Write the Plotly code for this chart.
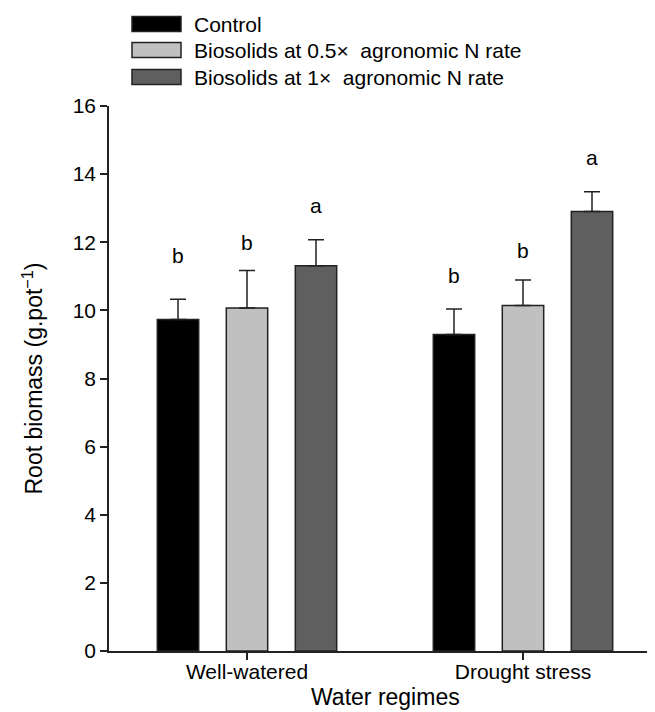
import plotly.graph_objects as go

regimes = ["Well-watered", "Drought stress"]
treatments = ["Control", "Biosolids at 0.5×  agronomic N rate", "Biosolids at 1×  agronomic N rate"]
means = {
    "Control": [9.73, 9.29],
    "Biosolids at 0.5×  agronomic N rate": [10.07, 10.14],
    "Biosolids at 1×  agronomic N rate": [11.31, 12.90],
}
errors = {
    "Control": [0.60, 0.75],
    "Biosolids at 0.5×  agronomic N rate": [1.10, 0.75],
    "Biosolids at 1×  agronomic N rate": [0.76, 0.58],
}
letters = {
    "Control": ["b", "b"],
    "Biosolids at 0.5×  agronomic N rate": ["b", "b"],
    "Biosolids at 1×  agronomic N rate": ["a", "a"],
}
y_ticks = [0, 2, 4, 6, 8, 10, 12, 14, 16]
x_title = "Water regimes"
y_title = "Root biomass (g.pot<sup>−1</sup>)"

colors = ["#000000", "#c0c0c0", "#5f5f5f"]
letter_shift = {  # px between error cap and letter baseline
    "Control": [36, 26],
    "Biosolids at 0.5×  agronomic N rate": [21, 22],
    "Biosolids at 1×  agronomic N rate": [27, 27],
}
FONT = "Liberation Sans, Arial, sans-serif"
INK = "#222222"

# plot area in pixels
L, R, T, B = 101, 653, 98, 643
PW, PH = R - L, B - T

fig = go.Figure()
for t, c in zip(treatments, colors):
    fig.add_trace(go.Bar(
        x=regimes, y=means[t], name=t, showlegend=False,
        marker=dict(color=c, line=dict(color=INK, width=1.5)),
        error_y=dict(type="data", array=errors[t], arrayminus=[0] * len(regimes),
                     symmetric=False, color=INK, thickness=1.5, width=8),
    ))

# significance letters
offsets = [-0.25, 0.0, 0.25]
for t, off in zip(treatments, offsets):
    for i, r in enumerate(regimes):
        fig.add_annotation(
            x=i + off, y=means[t][i] + errors[t][i], xref="x", yref="y",
            text=letters[t][i], showarrow=False, yanchor="bottom",
            yshift=letter_shift[t][i] - 6,
            font=dict(family=FONT, size=21, color="#000"),
        )

# legend (drawn manually to match the wide swatches)
legend_y = [16, 42, 69]
for t, c, yy in zip(treatments, colors, legend_y):
    fig.add_shape(type="rect", xref="paper", yref="paper",
                  x0=(124 - L) / PW, x1=(173 - L) / PW,
                  y0=(B - (yy + 7.5)) / PH, y1=(B - (yy - 7.5)) / PH,
                  fillcolor=c, line=dict(color=INK, width=1.5))
    fig.add_annotation(xref="paper", yref="paper",
                       x=(184 - L) / PW, y=(B - yy) / PH,
                       text=t, showarrow=False, xanchor="left", yanchor="middle",
                       font=dict(family=FONT, size=21, color="#000"))

# axis titles
fig.add_annotation(xref="paper", yref="paper", x=(377 - L) / PW, y=(B - 689) / PH,
                   text=x_title, showarrow=False, xanchor="center", yanchor="middle",
                   font=dict(family=FONT, size=23, color="#000"))
fig.add_annotation(xref="paper", yref="paper", x=(24 - L) / PW, y=0.5,
                   text=y_title, showarrow=False, xanchor="center", yanchor="middle",
                   textangle=-90, font=dict(family=FONT, size=23, color="#000"))

fig.update_layout(
    width=655, height=712,
    margin=dict(l=L, r=655 - R, t=T, b=712 - B),
    paper_bgcolor="white", plot_bgcolor="white",
    barmode="group", bargap=0.25, bargroupgap=0.4,
    font=dict(family=FONT, color="#000"),
)
fig.update_xaxes(
    type="category", range=[-0.5, 1.5],
    showline=True, linecolor=INK, linewidth=1.5,
    ticks="outside", ticklen=7, tickwidth=1.5, tickcolor=INK,
    tickfont=dict(size=21), showgrid=False, zeroline=False,
    ticklabelstandoff=-6,
)
fig.update_yaxes(
    range=[0, 16], tickvals=y_ticks, ticktext=[str(v) for v in y_ticks],
    showline=True, linecolor=INK, linewidth=1.5,
    ticks="outside", ticklen=7, tickwidth=1.5, tickcolor=INK,
    tickfont=dict(size=21), showgrid=False, zeroline=False,
)

fig.write_html("out.html")
